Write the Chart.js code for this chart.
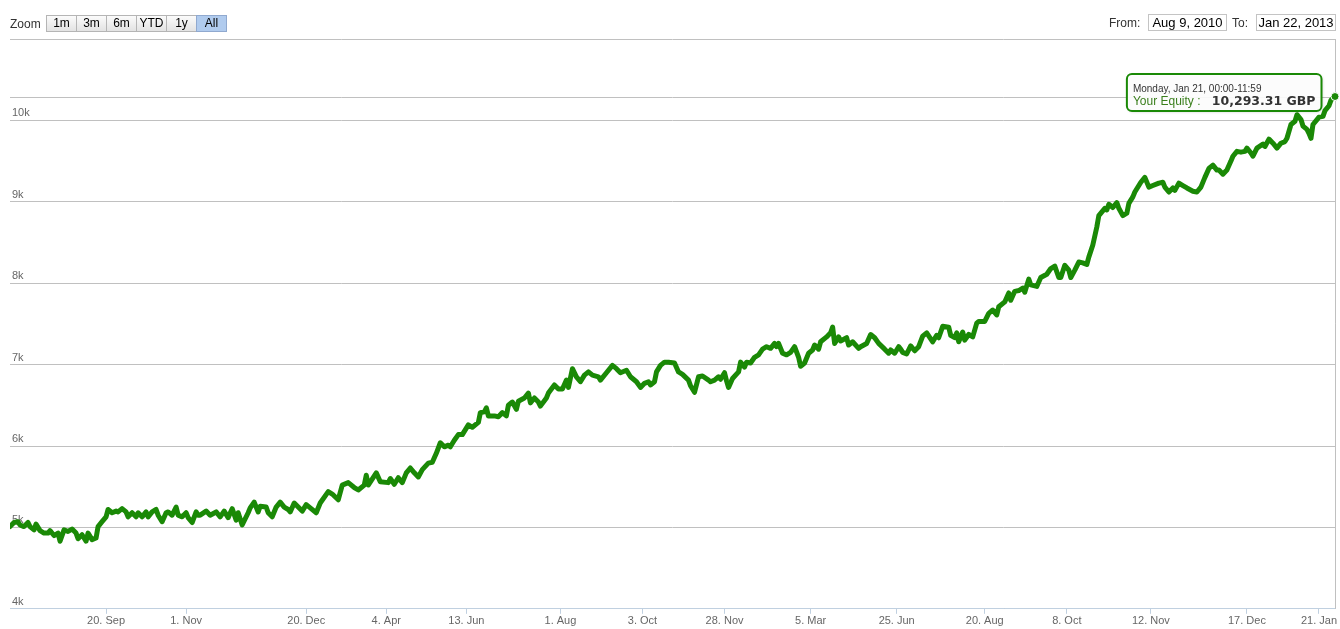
<!DOCTYPE html>
<html lang="en">
<head>
<meta charset="utf-8">
<title>Your Equity</title>
<script src="https://cdn.jsdelivr.net/npm/chart.js@4.4.1/dist/chart.umd.min.js"></script>
<style>
  html, body { margin: 0; padding: 0; background: #fff; }
  body { width: 1340px; height: 629px; position: relative; overflow: hidden; font-family: "Liberation Sans", Arial, sans-serif; }
  #equityChart { position: absolute; left: 0; top: 0; }
  .range-selector { position: absolute; left: 10px; top: 15px; display: flex; align-items: center; z-index: 2; }
  .range-selector .label { width: 37px; font-size: 12px; color: #333; }
  .range-selector .btn { width: 31px; height: 17px; line-height: 15px; box-sizing: border-box; margin-left: -1px; text-align: center; font-size: 12px; color: #000; border: 1px solid #b5b5b5; background: linear-gradient(#fbfbfb, #e3e3e3); }
  .range-selector .btn.active { background: #b0cbee; border-color: #90a9cf; }
  .date-part { position: absolute; top: 14px; font-size: 12px; color: #333; z-index: 2; }
  .date-part.label { top: 16px; }
  .date-part.box { height: 17px; line-height: 15px; box-sizing: border-box; border: 1px solid #c4c4c4; font-size: 13px; color: #000; text-align: center; }
</style>
</head>
<body>
<div class="range-selector">
  <span class="label">Zoom</span>
  <span class="btn">1m</span>
  <span class="btn">3m</span>
  <span class="btn">6m</span>
  <span class="btn">YTD</span>
  <span class="btn">1y</span>
  <span class="btn active">All</span>
</div>
<span class="date-part label" style="left:1109px">From:</span>
<span class="date-part box" style="left:1148px;width:79px">Aug 9, 2010</span>
<span class="date-part label" style="left:1232px">To:</span>
<span class="date-part box" style="left:1256px;width:80px">Jan 22, 2013</span>
<canvas id="equityChart" width="1340" height="629"></canvas>
<script>
// ordinal session number on the stock axis, and equity at that session
const sessions = [
  0, 2, 4, 5, 7, 9, 10, 12, 13, 15, 17, 19, 20, 22, 24, 25, 27, 29, 31, 33,
  34, 36, 38, 39, 41, 43, 44, 46, 48, 49, 51, 53, 54, 56, 58, 59, 61, 63, 64, 66,
  68, 69, 71, 73, 74, 76, 78, 79, 81, 83, 84, 86, 88, 89, 91, 93, 94, 95, 98, 100,
  103, 105, 107, 109, 111, 113, 114, 116, 119, 120, 122, 124, 125, 128, 129, 131, 133, 135, 137, 139,
  140, 142, 144, 146, 148, 150, 153, 155, 159, 161, 164, 166, 169, 172, 174, 177, 178, 179, 183, 185,
  189, 190, 192, 194, 196, 198, 200, 202, 204, 206, 209, 211, 213, 215, 217, 219, 220, 222, 224, 226,
  229, 231, 234, 235, 237, 238, 239, 242, 244, 246, 248, 249, 251, 253, 254, 257, 259, 260, 262, 264,
  265, 268, 269, 272, 274, 276, 278, 279, 281, 283, 285, 287, 289, 291, 294, 295, 298, 301, 303, 305,
  308, 310, 313, 315, 317, 319, 320, 322, 323, 325, 327, 329, 332, 334, 336, 339, 340, 342, 344, 346,
  349, 350, 352, 354, 355, 357, 358, 359, 361, 364, 365, 367, 368, 370, 372, 374, 376, 378, 380, 382,
  383, 384, 386, 388, 390, 392, 394, 395, 397, 399, 401, 402, 404, 405, 408, 410, 411, 412, 414, 415,
  418, 419, 421, 424, 425, 428, 430, 432, 434, 437, 439, 440, 442, 444, 445, 446, 448, 450, 452, 454,
  456, 458, 461, 463, 464, 466, 469, 470, 472, 473, 474, 476, 477, 479, 481, 483, 484, 487, 489, 491,
  493, 494, 497, 499, 500, 502, 504, 506, 507, 509, 510, 513, 515, 518, 520, 522, 524, 525, 527, 529,
  530, 532, 534, 536, 538, 539, 541, 543, 544, 547, 548, 549, 551, 553, 554, 556, 558, 559, 561, 562,
  565, 567, 569, 571, 574, 576, 577, 579, 581, 582, 584, 586, 588, 591, 593, 595, 597, 599, 601, 603,
  604, 606, 608, 610, 611, 613, 615, 617, 618, 620, 621, 623, 626, 627, 629, 631, 633, 635, 637, 638,
  640, 642, 643, 645, 646, 648, 649, 650, 651, 653, 654, 656, 657, 659, 660, 662
];
const equity = [
  5010, 5060, 5070, 5030, 5010, 5060, 5010, 4970, 5040, 4960, 4930, 4930, 4960, 4900, 4930, 4830, 4970, 4950, 4980, 4930,
  4860, 4910, 4830, 4930, 4850, 4870, 5010, 5070, 5130, 5220, 5180, 5200, 5190, 5230, 5190, 5130, 5180, 5130, 5180, 5130,
  5190, 5130, 5190, 5220, 5150, 5070, 5180, 5190, 5150, 5250, 5150, 5130, 5180, 5120, 5060, 5190, 5150, 5150, 5200, 5150,
  5190, 5130, 5200, 5120, 5230, 5090, 5180, 5030, 5180, 5240, 5310, 5190, 5260, 5250, 5180, 5130, 5250, 5310, 5250, 5220,
  5190, 5300, 5250, 5200, 5280, 5240, 5180, 5300, 5440, 5410, 5340, 5520, 5550, 5490, 5460, 5520, 5640, 5520, 5670, 5560,
  5550, 5600, 5530, 5610, 5550, 5670, 5730, 5670, 5620, 5710, 5790, 5800, 5910, 6040, 5990, 6010, 5990, 6070, 6140, 6140,
  6260, 6230, 6290, 6410, 6420, 6470, 6370, 6370, 6360, 6410, 6370, 6500, 6540, 6450, 6550, 6590, 6650, 6530, 6590, 6540,
  6490, 6590, 6650, 6750, 6700, 6700, 6810, 6720, 6950, 6850, 6790, 6870, 6910, 6870, 6850, 6810, 6900, 6990, 6950, 6900,
  6930, 6850, 6790, 6720, 6770, 6790, 6750, 6790, 6910, 6990, 7030, 7030, 7020, 6910, 6880, 6810, 6740, 6660, 6850, 6860,
  6810, 6790, 6810, 6850, 6820, 6900, 6800, 6720, 6830, 6910, 7030, 6970, 7030, 7020, 7090, 7120, 7190, 7220, 7200, 7260,
  7220, 7260, 7140, 7120, 7150, 7220, 7090, 6980, 7020, 7140, 7180, 7240, 7190, 7280, 7340, 7390, 7460, 7260, 7340, 7290,
  7330, 7240, 7280, 7200, 7220, 7260, 7370, 7330, 7260, 7190, 7140, 7180, 7140, 7220, 7190, 7150, 7130, 7230, 7170, 7220,
  7350, 7390, 7280, 7360, 7330, 7470, 7460, 7360, 7330, 7390, 7280, 7400, 7300, 7370, 7340, 7510, 7530, 7530, 7630, 7670,
  7610, 7710, 7770, 7880, 7790, 7900, 7910, 7940, 7890, 8050, 7980, 7960, 8070, 8110, 8180, 8210, 8070, 8070, 8220, 8160,
  8070, 8160, 8260, 8250, 8230, 8320, 8470, 8690, 8830, 8920, 8900, 8970, 8930, 8990, 8920, 8830, 8860, 8980, 9060, 9120,
  9240, 9300, 9180, 9200, 9230, 9240, 9180, 9120, 9170, 9140, 9230, 9200, 9170, 9130, 9120, 9180, 9300, 9410, 9450, 9390,
  9390, 9340, 9390, 9500, 9560, 9620, 9610, 9620, 9660, 9600, 9560, 9660, 9710, 9680, 9770, 9720, 9660, 9720, 9740, 9780,
  9950, 9990, 10070, 10010, 9930, 9890, 9840, 9780, 9950, 10010, 10040, 10050, 10120, 10180, 10250, 10293.31
];
const tickSessions = [48, 88, 148, 188, 228, 275, 316, 357, 400, 443, 487, 528, 570, 618, 654];
const tickLabels = ["20. Sep", "1. Nov", "20. Dec", "4. Apr", "13. Jun", "1. Aug", "3. Oct", "28. Nov",
  "5. Mar", "25. Jun", "20. Aug", "8. Oct", "12. Nov", "17. Dec", "21. Jan"];
const yTickValues = [4000, 5000, 6000, 7000, 8000, 9000, 10000, 11000];

const seriesName = "Your Equity";
const hoverHeader = "Monday, Jan 21, 00:00-11:59";
const currency = "GBP";

const GREEN = "#1a8906";
const GRID = "#c0c0c0";
const AXIS = "#c0d0e0";
const FONT = "'Liberation Sans', Arial, sans-serif";

// crosshair, marker and tooltip on the last (hovered) point
const hoverPlugin = {
  id: "hoverPoint",
  beforeDatasetsDraw(chart) {
    const { ctx, chartArea } = chart;
    const pt = chart.getDatasetMeta(0).data.at(-1);
    const x = Math.round(pt.x) + 0.5;
    const y = Math.round(pt.y) + 0.5;
    ctx.save();
    ctx.strokeStyle = GRID;
    ctx.lineWidth = 1;
    ctx.beginPath();
    ctx.moveTo(chartArea.left, y);
    ctx.lineTo(chartArea.right, y);
    ctx.moveTo(x, chartArea.top);
    ctx.lineTo(x, chartArea.bottom);
    ctx.stroke();
    ctx.restore();
  },
  afterDatasetsDraw(chart) {
    const { ctx } = chart;
    const pt = chart.getDatasetMeta(0).data.at(-1);

    ctx.save();
    ctx.beginPath();
    ctx.arc(pt.x, pt.y, 4, 0, Math.PI * 2);
    ctx.fillStyle = GREEN;
    ctx.fill();
    ctx.lineWidth = 1;
    ctx.strokeStyle = "#fff";
    ctx.stroke();

    const last = equity[equity.length - 1];
    const valueText = last.toLocaleString("en-US", { minimumFractionDigits: 2, maximumFractionDigits: 2 }) + " " + currency;
    const nameText = seriesName + " : ";

    ctx.font = "10px " + FONT;
    const w1 = ctx.measureText(hoverHeader).width;
    ctx.font = "12px " + FONT;
    const w2 = ctx.measureText(nameText).width + 8;
    ctx.font = "bold 12.5px 'DejaVu Sans', sans-serif";
    const w3 = ctx.measureText(valueText).width;

    const boxW = Math.max(w1, w2 + w3) + 12;
    const boxH = 37;
    const right = pt.x - 13.5;
    const left = right - boxW;
    const top = pt.y - 22.5;

    ctx.save();
    ctx.shadowColor = "rgba(0, 0, 0, 0.2)";
    ctx.shadowOffsetX = 1;
    ctx.shadowOffsetY = 1;
    ctx.shadowBlur = 3;
    ctx.beginPath();
    ctx.roundRect(left, top, boxW, boxH, 5);
    ctx.fillStyle = "rgba(255, 255, 255, 0.92)";
    ctx.fill();
    ctx.restore();

    ctx.beginPath();
    ctx.roundRect(left, top, boxW, boxH, 5);
    ctx.lineWidth = 2;
    ctx.strokeStyle = GREEN;
    ctx.stroke();

    ctx.textBaseline = "alphabetic";
    ctx.textAlign = "left";
    ctx.font = "10px " + FONT;
    ctx.fillStyle = "#333";
    ctx.fillText(hoverHeader, left + 6, top + 18);
    ctx.font = "12px " + FONT;
    ctx.fillStyle = "#3a7f1c";
    ctx.fillText(nameText, left + 6, top + 31);
    ctx.font = "bold 12.5px 'DejaVu Sans', sans-serif";
    ctx.fillStyle = "#333";
    ctx.fillText(valueText, left + 6 + w2, top + 31);
    ctx.restore();
  }
};

new Chart(document.getElementById("equityChart"), {
  type: "line",
  data: {
    datasets: [
      {
        label: seriesName,
        data: sessions.map((s, i) => ({ x: s, y: equity[i] })),
        borderColor: GREEN,
        borderWidth: 5,
        borderJoinStyle: "round",
        borderCapStyle: "round",
        pointRadius: 0,
        pointHoverRadius: 0,
        tension: 0,
        fill: false,
      },
    ],
  },
  options: {
    responsive: false,
    animation: false,
    events: [],
    layout: { padding: { left: 6, top: 39, right: 5, bottom: 0 } },
    plugins: {
      legend: { display: false },
      tooltip: { enabled: false },
    },
    scales: {
      x: {
        type: "linear",
        min: 0,
        max: sessions[sessions.length - 1],
        afterBuildTicks(axis) {
          axis.ticks = tickSessions.map((v) => ({ value: v }));
        },
        afterFit(axis) {
          axis.paddingLeft = 0;
          axis.paddingRight = 0;
        },
        ticks: {
          autoSkip: false,
          maxRotation: 0,
          padding: 1,
          color: "#666",
          font: { family: FONT, size: 11 },
          callback(v) {
            const i = tickSessions.indexOf(v);
            return i < 0 ? null : tickLabels[i];
          },
        },
        grid: { drawOnChartArea: false, drawTicks: true, tickLength: 5, color: AXIS },
        border: { color: AXIS },
      },
      y: {
        min: 4000,
        max: 11000,
        afterBuildTicks(axis) {
          axis.ticks = yTickValues.map((v) => ({ value: v }));
        },
        ticks: {
          mirror: true,
          padding: 2,
          labelOffset: -7,
          color: "#666",
          font: { family: FONT, size: 11 },
          callback(v) {
            return v === 11000 ? "" : v / 1000 + "k";
          },
        },
        grid: { color: GRID, drawTicks: false },
        border: { display: false },
      },
    },
  },
  plugins: [hoverPlugin],
});
</script>
</body>
</html>
